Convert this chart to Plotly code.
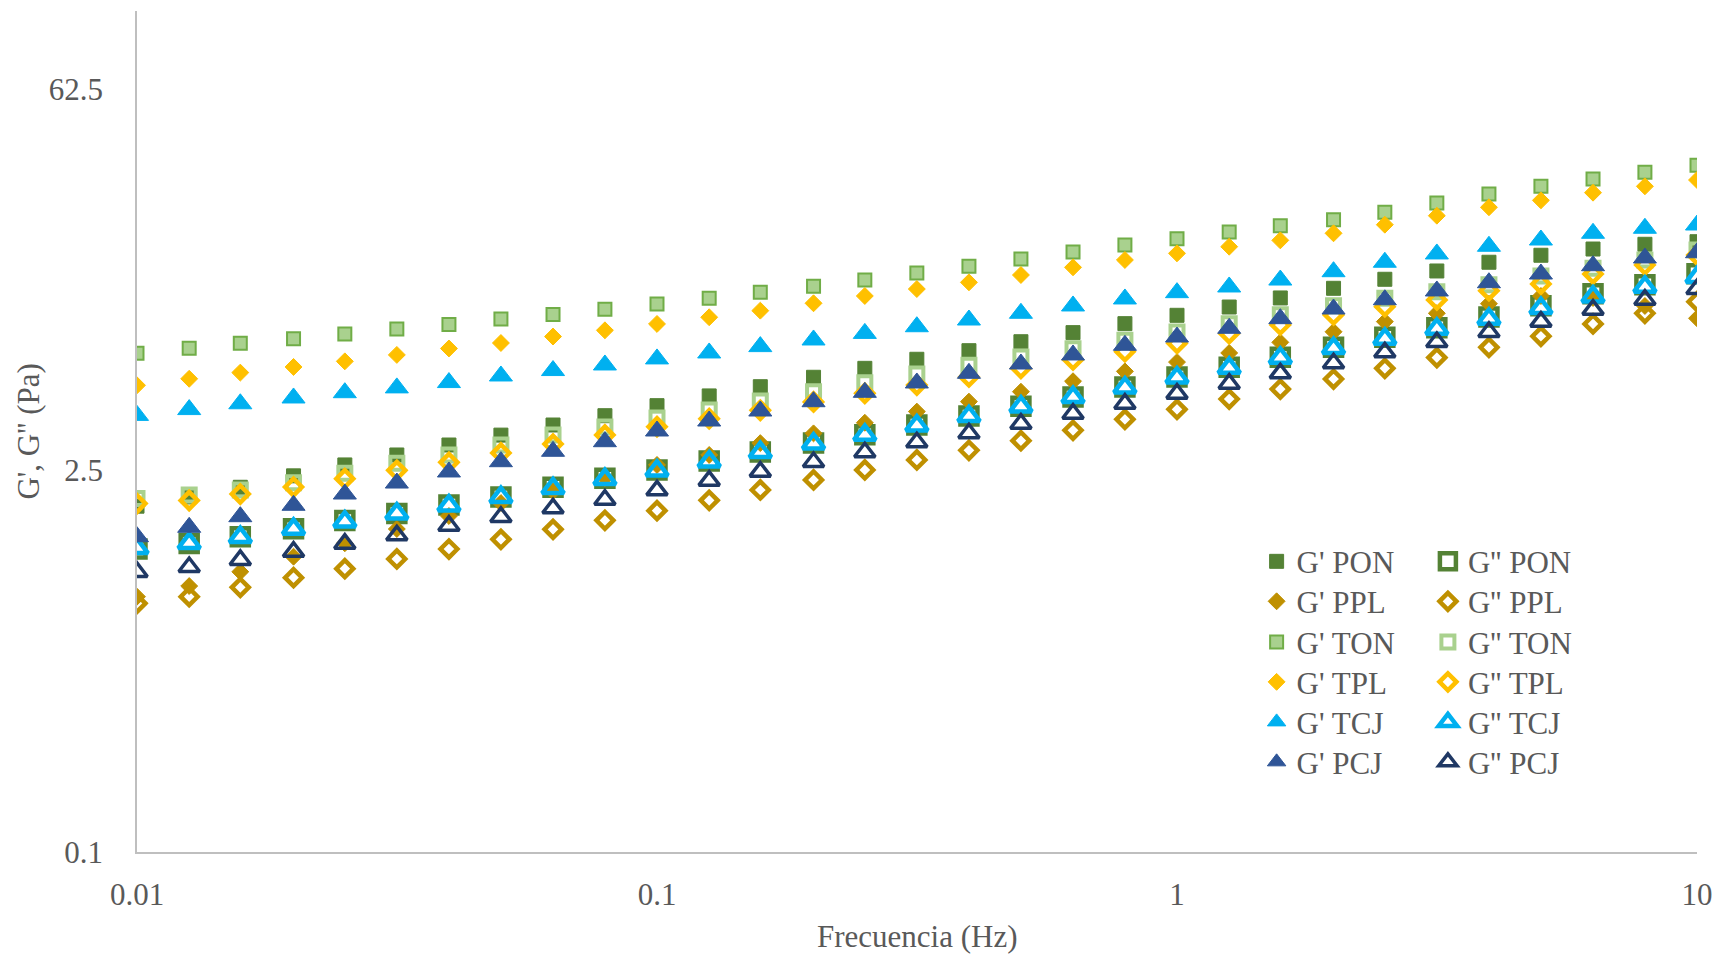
import plotly.graph_objects as go

# Oscillatory frequency sweep: storage (G') and loss (G'') moduli
freq_hz = [0.01, 0.0126, 0.0158, 0.02, 0.0251, 0.0316, 0.0398, 0.0501, 0.0631, 0.0794,
           0.1, 0.126, 0.158, 0.2, 0.251, 0.316, 0.398, 0.501, 0.631, 0.794,
           1, 1.26, 1.58, 2, 2.51, 3.16, 3.98, 5.01, 6.31, 7.94, 10]

g1_pon = [1.85, 2.00, 2.17, 2.39, 2.62, 2.85, 3.10, 3.37, 3.67, 3.97,
          4.32, 4.69, 5.07, 5.49, 5.92, 6.39, 6.87, 7.41, 8.00, 8.63,
          9.26, 9.93, 10.72, 11.63, 12.55, 13.46, 14.49, 15.37, 16.20, 16.86, 17.23]
g2_pon = [1.29, 1.35, 1.43, 1.53, 1.64, 1.74, 1.87, 2.00, 2.17, 2.34,
          2.51, 2.71, 2.92, 3.15, 3.38, 3.67, 3.96, 4.30, 4.65, 5.06,
          5.50, 5.97, 6.50, 7.07, 7.69, 8.34, 9.13, 10.04, 11.11, 11.99, 13.15]
g1_ppl = [0.862, 0.943, 1.064, 1.208, 1.353, 1.526, 1.703, 1.900, 2.102, 2.347,
          2.62, 2.85, 3.15, 3.42, 3.74, 4.11, 4.47, 4.86, 5.31, 5.77,
          6.24, 6.74, 7.37, 8.06, 8.78, 9.42, 10.21, 10.90, 10.72, 10.02, 9.03]
g2_ppl = [0.815, 0.862, 0.933, 1.012, 1.092, 1.185, 1.289, 1.399, 1.522, 1.642,
          1.781, 1.944, 2.121, 2.308, 2.511, 2.732, 2.965, 3.215, 3.510, 3.851,
          4.19, 4.57, 4.97, 5.41, 5.92, 6.48, 7.07, 7.76, 8.61, 9.42, 10.39]
g1_ton = [6.72, 7.01, 7.31, 7.60, 7.91, 8.25, 8.57, 8.98, 9.32, 9.74,
          10.19, 10.69, 11.24, 11.83, 12.47, 13.23, 14.00, 14.89, 15.80, 16.76,
          17.68, 18.70, 19.72, 20.75, 22.1, 23.9, 25.77, 27.50, 29.25, 30.95, 32.83]
g2_ton = [1.974, 2.033, 2.121, 2.256, 2.442, 2.657, 2.849, 3.100, 3.373, 3.608,
          3.893, 4.165, 4.494, 4.861, 5.245, 5.643, 6.072, 6.514, 6.987, 7.499,
          8.044, 8.629, 9.307, 10.04, 10.69, 11.30, 11.99, 12.90, 13.77, 14.77, 16.07]
g1_tpl = [5.13, 5.42, 5.71, 5.99, 6.28, 6.63, 7.00, 7.33, 7.74, 8.16,
          8.61, 9.11, 9.63, 10.25, 10.90, 11.56, 12.23, 13.01, 13.88, 14.77,
          15.62, 16.52, 17.43, 18.50, 19.89, 21.46, 23.04, 24.43, 26.06, 27.50, 29.00]
g2_tpl = [1.892, 1.941, 2.050, 2.175, 2.333, 2.504, 2.679, 2.898, 3.126, 3.373,
          3.618, 3.871, 4.155, 4.457, 4.795, 5.143, 5.504, 5.922, 6.352, 6.813,
          7.311, 7.929, 8.535, 9.286, 9.958, 10.54, 11.40, 12.06, 13.12, 14.16, 15.40]
g1_tcj = [3.98, 4.18, 4.39, 4.61, 4.82, 5.02, 5.25, 5.55, 5.81, 6.09,
          6.41, 6.74, 7.11, 7.52, 7.95, 8.41, 8.90, 9.42, 10.02, 10.63,
          11.21, 11.76, 12.47, 13.38, 14.49, 15.54, 16.58, 17.48, 18.50, 19.30, 19.84]
g2_tcj = [1.297, 1.353, 1.423, 1.526, 1.623, 1.736, 1.858, 1.994, 2.151, 2.321,
          2.496, 2.693, 2.915, 3.134, 3.373, 3.648, 3.949, 4.282, 4.637, 5.028,
          5.470, 5.936, 6.459, 7.011, 7.583, 8.250, 8.977, 9.824, 10.83, 11.76, 12.76]
g1_pcj = [1.430, 1.548, 1.693, 1.864, 2.050, 2.249, 2.469, 2.693, 2.940, 3.188,
          3.489, 3.796, 4.130, 4.467, 4.836, 5.232, 5.676, 6.140, 6.626, 7.189,
          7.710, 8.299, 9.000, 9.766, 10.56, 11.37, 12.19, 13.12, 14.07, 15.02, 15.70]
g2_pcj = [1.062, 1.107, 1.175, 1.260, 1.348, 1.447, 1.569, 1.689, 1.817, 1.954,
          2.115, 2.294, 2.475, 2.686, 2.915, 3.172, 3.422, 3.710, 4.037, 4.391,
          4.780, 5.200, 5.676, 6.177, 6.777, 7.393, 8.044, 8.776, 9.710, 10.56, 11.56]

x_ticks = [0.01, 0.1, 1, 10]
x_ticktext = ["0.01", "0.1", "1", "10"]
y_ticks = [0.1, 2.5, 62.5]
y_ticktext = ["0.1", "2.5", "62.5"]

FONT = "Liberation Serif, Times New Roman, serif"
TXT = "#595959"

# (name, values, symbol, size, fill colour, line colour, line width)
series = [
    ("G' PON", g1_pon, "square", 14, "#548235", "#548235", 1),
    ("G'' PON", g2_pon, "square-open", 17, "#548235", "#548235", 4.5),
    ("G' PPL", g1_ppl, "diamond", 13, "#BF9000", "#BF9000", 1),
    ("G'' PPL", g2_ppl, "diamond-open", 13, "#BF9000", "#BF9000", 4.5),
    ("G' TON", g1_ton, "square", 13, "#A9D18E", "#70AD47", 2),
    ("G'' TON", g2_ton, "square-open", 13, "#A9D18E", "#A9D18E", 4),
    ("G' TPL", g1_tpl, "diamond", 13, "#FFC000", "#FFC000", 1),
    ("G'' TPL", g2_tpl, "diamond-open", 13, "#FFC000", "#FFC000", 4.5),
    ("G' TCJ", g1_tcj, "triangle-up", 20, "#00B0F0", "#00B0F0", 1),
    ("G'' TCJ", g2_tcj, "triangle-up-open", 19, "#00B0F0", "#00B0F0", 4.5),
    ("G' PCJ", g1_pcj, "triangle-up", 20, "#2F5597", "#2F5597", 1),
    ("G'' PCJ", g2_pcj, "triangle-up-open", 18, "#1F3864", "#1F3864", 3.5),
]

# Legend grid: two columns (G' left, G'' right), six rows
col_x = [0.7177, 0.8275]
row_y = [0.3773, 0.3298, 0.2815, 0.2340, 0.1864, 0.1389]

fig = go.Figure()
legends = {}
for i, (name, vals, sym, size, fill, lc, lw) in enumerate(series):
    leg_id = "legend" if i == 0 else f"legend{i + 1}"
    fig.add_trace(go.Scatter(
        x=freq_hz, y=vals, mode="markers", name=name, legend=leg_id,
        marker=dict(symbol=sym, size=size, color=fill,
                    line=dict(color=lc, width=lw)),
    ))
    legends[leg_id] = dict(
        x=col_x[i % 2], y=row_y[i // 2],
        xanchor="left", yanchor="top",
        font=dict(family=FONT, size=31, color=TXT),
        bgcolor="rgba(0,0,0,0)", orientation="v",
    )

fig.update_layout(
    width=1724, height=954,
    margin=dict(l=137, r=25, t=11, b=102),
    paper_bgcolor="white", plot_bgcolor="white",
    font=dict(family=FONT, size=31, color=TXT),
    showlegend=True,
    xaxis=dict(
        type="log", range=[-2, 1],
        tickvals=x_ticks, ticktext=x_ticktext,
        showgrid=False, zeroline=False,
        showline=True, linecolor="#BFBFBF", linewidth=1.5,
        ticks="", ticklabelstandoff=14,
        tickfont=dict(family=FONT, size=31, color=TXT),
    ),
    yaxis=dict(
        type="log", range=[-1, 2.0817],
        tickvals=y_ticks, ticktext=y_ticktext,
        showgrid=False, zeroline=False,
        showline=True, linecolor="#BFBFBF", linewidth=1.5,
        ticks="", ticklabelstandoff=26,
        tickfont=dict(family=FONT, size=31, color=TXT),
    ),
    annotations=[
        dict(text="Frecuencia (Hz)", xref="paper", yref="paper",
             x=0.5, y=-0.0999, xanchor="center", yanchor="middle",
             showarrow=False, font=dict(family=FONT, size=31, color=TXT)),
        dict(text="G', G'' (Pa)", xref="paper", yref="paper",
             x=-0.0698, y=0.5, xanchor="center", yanchor="middle",
             textangle=-90, showarrow=False,
             font=dict(family=FONT, size=31, color=TXT)),
    ],
    **legends,
)

fig.write_html("out.html")
